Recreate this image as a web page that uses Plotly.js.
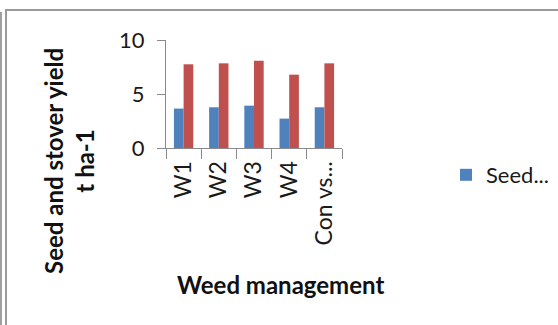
<!DOCTYPE html>
<html>
<head>
<meta charset="utf-8">
<script src="https://cdn.plot.ly/plotly-3.0.1.min.js"></script>
<style>
html,body{margin:0;padding:0;background:#fff;}
#wrap{position:relative;width:558px;height:325px;overflow:hidden;}
#chart{position:absolute;left:0;top:0;width:558px;height:325px;}
.b1{position:absolute;left:5px;top:9px;width:560px;height:330px;border-left:2px solid #9a9a9a;border-top:2px solid #9a9a9a;}
.b2{position:absolute;left:0px;top:12px;width:2px;height:330px;background:#a0a0a0;}
</style>
</head>
<body>
<div id="wrap">
<div id="chart"></div>
<div class="b1"></div>
<div class="b2"></div>
</div>
<script>
var categories = ["W1", "W2", "W3", "W4", "Con vs..."];
var seedYield = [3.65, 3.77, 3.92, 2.72, 3.77];
var stoverYield = [7.75, 7.84, 8.08, 6.79, 7.84];
var seriesNames = ["Seed...", "Stover..."];
var yTicks = [0, 5, 10];

var font = "Lato, 'Open Sans', sans-serif";

var data = [
  {type: "bar", x: categories, y: seedYield, name: seriesNames[0],
   marker: {color: "#4F81BD"}, showlegend: true},
  {type: "bar", x: categories, y: stoverYield, name: seriesNames[1],
   marker: {color: "#C0504D"}, showlegend: false}
];

var layout = {
  width: 558, height: 325,
  margin: {l: 166, r: 216, t: 40, b: 177, pad: 0, autoexpand: false},
  paper_bgcolor: "#fff", plot_bgcolor: "#fff",
  font: {family: font, size: 22, color: "#1a1a1a"},
  barmode: "group", bargap: 0.45, bargroupgap: 0,
  showlegend: true,
  legend: {xref: "container", yref: "container", x: 446 / 558, y: 1 - 175 / 325,
           xanchor: "left", yanchor: "middle",
           font: {family: font, size: 22, color: "#1a1a1a"}, itemwidth: 30,
           bgcolor: "rgba(0,0,0,0)", borderwidth: 0},
  xaxis: {
    type: "category", tickangle: -90, tickson: "boundaries",
    ticks: "outside", ticklen: 10, tickcolor: "#8a8a8a", tickwidth: 1,
    showline: true, linecolor: "#8a8a8a", linewidth: 1,
    showgrid: false, zeroline: false, ticklabelstandoff: 3, automargin: false,
    tickfont: {family: font, size: 23, color: "#1a1a1a"}
  },
  yaxis: {
    range: [0, 10], tickvals: yTicks, ticktext: yTicks.map(String),
    ticks: "outside", ticklen: 8, tickcolor: "#8a8a8a", tickwidth: 1,
    showline: true, linecolor: "#8a8a8a", linewidth: 1,
    showgrid: false, zeroline: false, ticklabelstandoff: 8, automargin: false,
    tickfont: {family: font, size: 22, color: "#1a1a1a"}
  },
  annotations: [
    {text: "<b>Seed and stover yield<br>t ha-1</b>", xref: "paper", yref: "paper",
     x: (69 - 166) / 176, y: (148 - 161) / 108, xanchor: "center", yanchor: "middle",
     textangle: -90, showarrow: false, font: {family: font, size: 24, color: "#111"}},
    {text: "<b>Weed management</b>", xref: "paper", yref: "paper",
     x: (280 - 166) / 176, y: (148 - 284) / 108, xanchor: "center", yanchor: "middle",
     showarrow: false, font: {family: font, size: 24, color: "#111"}}
  ]
};

Plotly.newPlot("chart", data, layout, {displayModeBar: false, staticPlot: true});
</script>
</body>
</html>
